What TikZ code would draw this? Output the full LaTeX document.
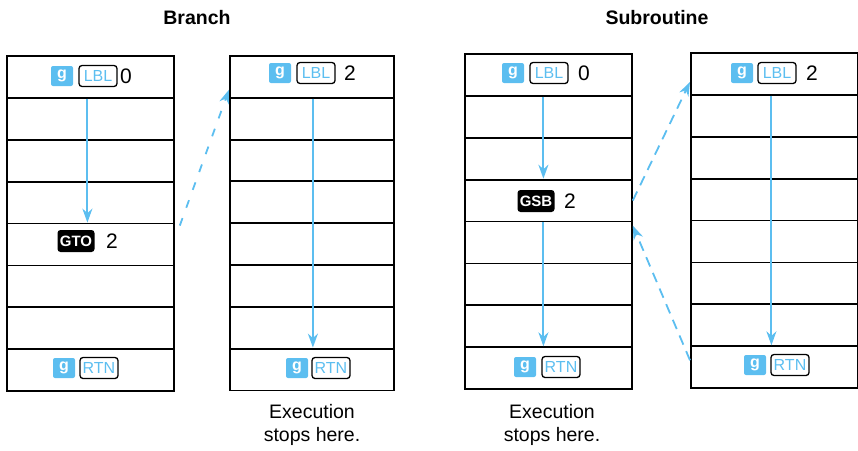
\documentclass[tikz,border=0pt]{standalone}
\usepackage{fontspec}
\setmainfont{Liberation Sans}
\usetikzlibrary{arrows.meta,calc}
\definecolor{keyblue}{RGB}{92,190,240}
\begin{document}
\begin{tikzpicture}[x=1pt,y=-1pt,
  cell/.style={draw=black,line width=1.8pt,minimum width=#1,minimum height=41.9pt,inner sep=0pt,anchor=north west},
  gkey/.style={fill=keyblue,text=white,rounded corners=2pt,minimum width=22pt,minimum height=20pt,inner sep=0pt,font=\fontsize{16}{16}\selectfont\bfseries},
  okey/.style={draw=black,line width=1.3pt,text=keyblue,rounded corners=3pt,minimum width=38pt,minimum height=21pt,inner sep=0pt,font=\fontsize{16}{16}\selectfont},
  bkey/.style={fill=black,text=white,rounded corners=3pt,minimum width=37pt,minimum height=22pt,inner sep=0pt,font=\fontsize{15}{15}\selectfont\bfseries},
  digit/.style={font=\fontsize{21}{21}\selectfont,inner sep=0pt},
  title/.style={font=\fontsize{19.5}{20}\selectfont\bfseries},
  note/.style={font=\fontsize{19.5}{23.5}\selectfont,align=center},
  flow/.style={draw=keyblue,line width=2pt,-{Stealth[length=14pt,width=10pt]}},
  jump/.style={draw=keyblue,line width=1.8pt,dash pattern=on 10pt off 7pt,-{Stealth[length=14pt,width=10pt]}}]
\useasboundingbox (0,0) rectangle (858,450);

\node[title] (t1) at (197,18) {Branch};
\node[title] (t2) at (657,18) {Subroutine};

% columns of cells
\foreach \i in {1,...,8}{
  \node[cell=167pt] (a\i) at (6,{55+(\i-1)*41.9}) {};
  \node[cell=164pt] (b\i) at (229,{55+(\i-1)*41.8}) {};
  \node[cell=167pt] (c\i) at (464,{53+(\i-1)*41.9}) {};
  \node[cell=167pt] (d\i) at (690,{52+(\i-1)*41.9}) {};
}

% column 1
\node[gkey] (a1g) at (62,76) {g};
\node[okey] (a1l) at (98,76) {LBL};
\node[digit] (a1n) at (126,76) {0};
\node[bkey] (a5k) at (76,241) {GTO};
\node[digit] (a5n) at (112,241) {2};
\node[gkey] (a8g) at (64,368) {g};
\node[okey] (a8r) at (99,368) {RTN};

% column 2
\node[gkey] (b1g) at (280,73) {g};
\node[okey] (b1l) at (316,73) {LBL};
\node[digit] (b1n) at (350,73) {2};
\node[gkey] (b8g) at (297,368) {g};
\node[okey] (b8r) at (331,368) {RTN};
\node[note] (n1) at (312,425) {Execution\\stops here.};

% column 3
\node[gkey] (c1g) at (513,73) {g};
\node[okey] (c1l) at (549,73) {LBL};
\node[digit] (c1n) at (584,73) {0};
\node[bkey] (c4k) at (536,201) {GSB};
\node[digit] (c4n) at (570,201) {2};
\node[gkey] (c8g) at (525,367) {g};
\node[okey] (c8r) at (561,367) {RTN};
\node[note] (n2) at (552,425) {Execution\\stops here.};

% column 4
\node[gkey] (d1g) at (742,73) {g};
\node[okey] (d1l) at (777,73) {LBL};
\node[digit] (d1n) at (812,73) {2};
\node[gkey] (d8g) at (755,365) {g};
\node[okey] (d8r) at (790,365) {RTN};

% solid flow arrows
\draw[flow] ([xshift=-3pt]a1.south) -- ([xshift=-3pt]a5.north);
\draw[flow] ([xshift=1pt]b1.south) -- ([xshift=1pt]b8.north);
\draw[flow] ([xshift=-5pt]c1.south) -- ([xshift=-5pt]c4.north);
\draw[flow] ([xshift=-5pt]c4.south) -- ([xshift=-5pt]c8.north);
\draw[flow] ([xshift=-3pt]d1.south) -- ([xshift=-3pt]d8.north);

% dashed jumps
\coordinate (j1s) at ([xshift=5pt,yshift=-3pt]a5.north east);
\coordinate (j1e) at ([yshift=9pt]b1.south west);
\draw[jump,dash pattern=on 8pt off 11pt] (j1s) -- (j1e);
\coordinate (j2e) at ([yshift=-8pt]d1.west);
\draw[jump] (c4.east) -- (j2e);
\coordinate (j3s) at ([yshift=-15pt]d8.north west);
\coordinate (j3e) at ([yshift=-5pt]c5.north east);
\draw[jump] (j3s) -- (j3e);
\end{tikzpicture}
\end{document}
